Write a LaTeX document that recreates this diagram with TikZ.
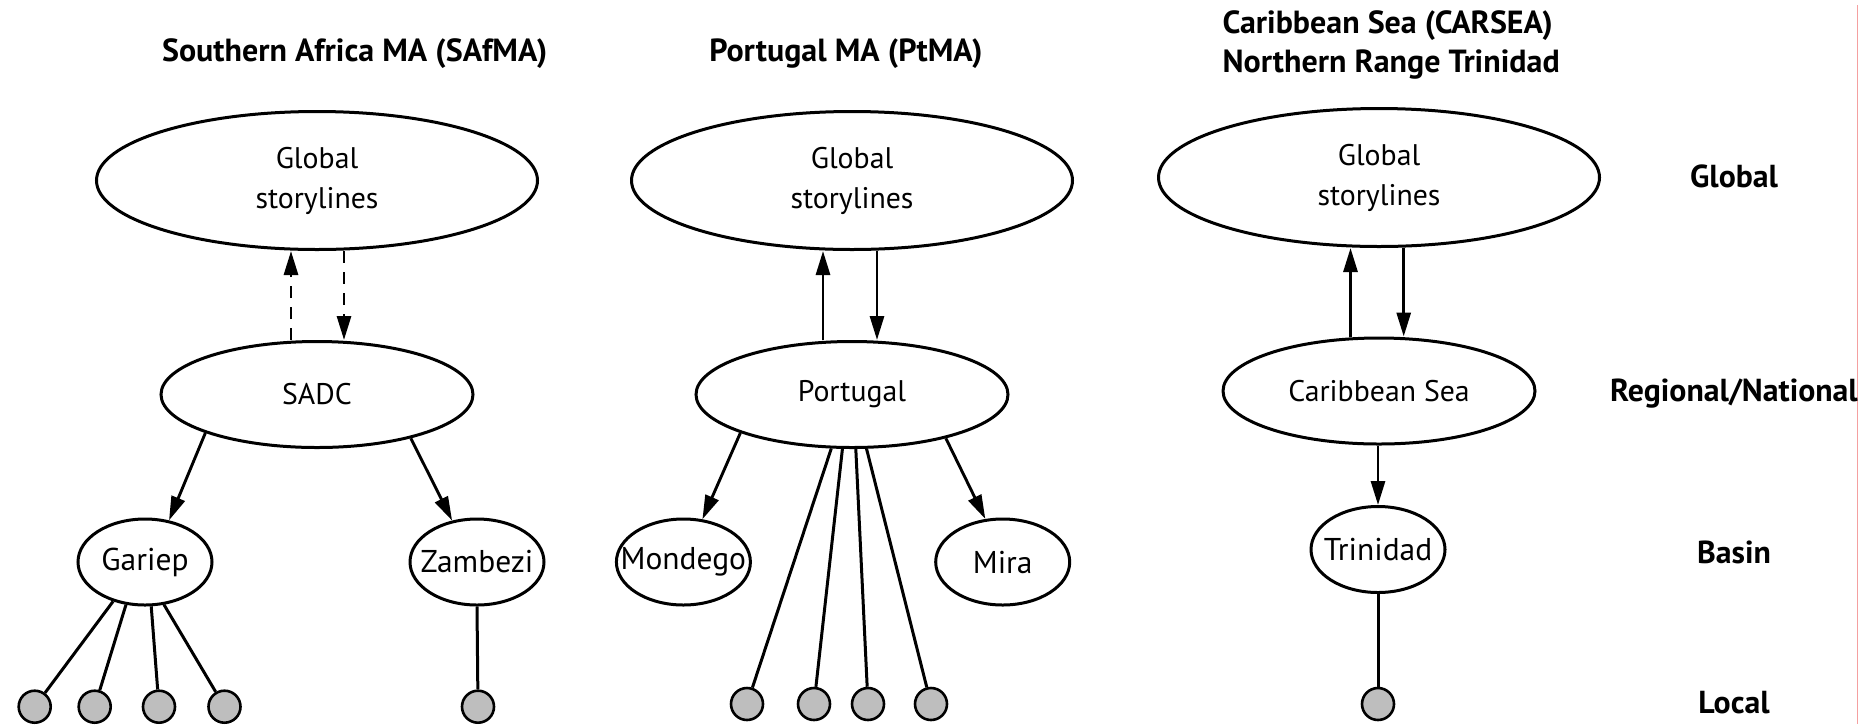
\documentclass[tikz,border=0pt]{standalone}
\usepackage{fontspec}
\setmainfont{PT Sans}
\usetikzlibrary{shapes.geometric,arrows.meta}
\definecolor{leafgray}{RGB}{190,190,190}
\definecolor{edgered}{RGB}{245,160,160}
\begin{document}
\begin{tikzpicture}[x=1pt,y=-1pt,
  every node/.style={font=\fontsize{29.8}{40}\selectfont},
  oval/.style={draw, ellipse, line width=3pt, inner sep=0pt, align=center},
  globaloval/.style={oval, minimum width=441pt, minimum height=138pt},
  regoval/.style={oval, minimum width=312pt, minimum height=106pt},
  % basin names nearly fill their ovals, so the oval keeps its fixed size
  basinoval/.style={oval, minimum width=134pt, minimum height=86pt, font=\fontsize{31.5}{40}\selectfont},
  leaf/.style={draw, circle, line width=2.6pt, fill=leafgray, minimum size=32pt, inner sep=0pt},
  flow/.style={line width=2.9pt, -{Triangle[length=24pt,width=14pt]}},
  dflow/.style={flow, dash pattern=on 12pt off 9pt},
  stem/.style={line width=3pt},
  heading/.style={font=\fontsize{32}{39}\selectfont\bfseries},
  levelname/.style={font=\fontsize{31.8}{39}\selectfont\bfseries, anchor=base},
]
\newcommand{\basinname}[1]{\makebox[0pt]{#1}}
% canvas
\useasboundingbox (0,0) rectangle (1876,724);
\draw[edgered, line width=0.9pt] (1857,5) -- (1857,724);

% headings
\node[heading, anchor=base] (h1) at (354.7,61) {Southern Africa MA (SAfMA)};
\node[heading, anchor=base] (h2) at (846,61) {Portugal MA (PtMA)};
\node[heading, anchor=base west] (h3a) at (1219,33) {Caribbean Sea (CARSEA)};
\node[heading, anchor=base west] (h3b) at (1219,72) {Northern Range Trinidad};

% scale levels
\node[levelname] (lvg) at (1734,187) {Global};
\node[levelname] (lvr) at (1734,401.7) {Regional/National};
\node[levelname] (lvb) at (1734,563) {Basin};
\node[levelname] (lvl) at (1734,713) {Local};

% ---- Southern Africa
\node[globaloval] (g1) at (317,180.5) {Global\\storylines};
\node[regoval] (sadc) at (317,394.5) {SADC};
\node[basinoval] (gariep) at (145,562) {\basinname{Gariep}};
\node[basinoval] (zambezi) at (477,562) {\basinname{Zambezi}};
\node[leaf] (a1) at (34.7,706.7) {};
\node[leaf] (a2) at (94.7,706.7) {};
\node[leaf] (a3) at (159,706.7) {};
\node[leaf] (a4) at (224.5,706.7) {};
\node[leaf] (a5) at (478,706.7) {};
\draw[dflow] ([xshift=-26pt]sadc.north) -- ([xshift=-26pt]g1.south);
\draw[dflow] ([xshift=27pt]g1.south) -- ([xshift=27pt]sadc.north);
\draw[flow] (sadc.199.7) -- (gariep.60.3);
\draw[flow] (sadc.335.4) -- (zambezi.121.8);
\draw[stem] (gariep.231.5) -- (a1);
\draw[stem] (gariep.246.3) -- (a2);
\draw[stem] (gariep.278.6) -- (a3);
\draw[stem] (gariep.294.8) -- (a4);
\draw[stem] (zambezi.south) -- (a5);

% ---- Portugal
\node[globaloval] (g2) at (852,180.5) {Global\\storylines};
\node[regoval] (port) at (852,394.5) {Portugal};
\node[basinoval] (mondego) at (683.4,562) {\basinname{Mondego}};
\node[basinoval] (mira) at (1002.7,562) {\basinname{Mira}};
\node[leaf] (b1) at (747,704) {};
\node[leaf] (b2) at (814,704) {};
\node[leaf] (b3) at (868,704) {};
\node[leaf] (b4) at (931,704) {};
\draw[flow] ([xshift=-29pt]port.north) -- ([xshift=-29pt]g2.south);
\draw[flow] ([xshift=25pt]g2.south) -- ([xshift=25pt]port.north);
\draw[flow] (port.199.6) -- (mondego.66.3);
\draw[flow] (port.335.1) -- (mira.112.7);
\draw[stem] (port.249.6) -- (b1);
\draw[stem] (port.260.7) -- (b2);
\draw[stem] (port.274.6) -- (b3);
\draw[stem] (port.285) -- (b4);

% ---- Caribbean
\node[globaloval] (g3) at (1379,177.5) {Global\\storylines};
\node[regoval] (carib) at (1379,391) {Caribbean Sea};
\node[basinoval] (trin) at (1378,549.5) {\basinname{Trinidad}};
\node[leaf] (c1) at (1378,704) {};
\draw[flow] ([xshift=-28.5pt]carib.north) -- ([xshift=-28.5pt]g3.south);
\draw[flow] ([xshift=24.7pt]g3.south) -- ([xshift=24.7pt]carib.north);
\draw[flow] (carib.south -| trin.north) -- (trin.north);
\draw[stem] (trin.south) -- (c1);
\end{tikzpicture}
\end{document}
